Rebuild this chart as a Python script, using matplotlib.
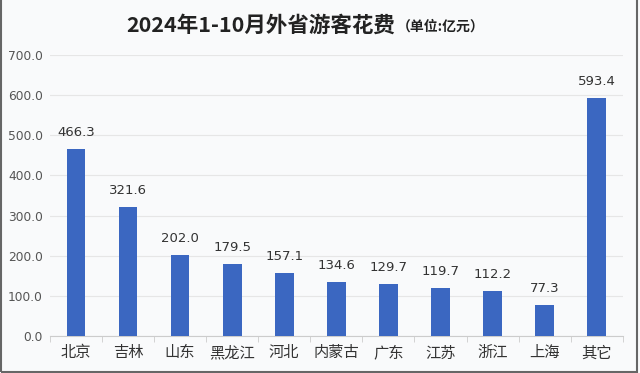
import matplotlib.pyplot as plt
import numpy as np

plt.rcParams['font.family'] = ['Noto Sans CJK SC', 'DejaVu Sans']

provinces = ['北京', '吉林', '山东', '黑龙江', '河北', '内蒙古', '广东', '江苏', '浙江', '上海', '其它']
spending = [466.3, 321.6, 202.0, 179.5, 157.1, 134.6, 129.7, 119.7, 112.2, 77.3, 593.4]
y_ticks = [0, 100, 200, 300, 400, 500, 600, 700]

bar_color = '#3b67c1'
bg = '#f9fafb'

fig = plt.figure(figsize=(6.4, 3.73), dpi=100, facecolor=bg)
ax = fig.add_axes([0.078, 0.099, 0.895, 0.754], facecolor=bg)

x = np.arange(len(provinces))
ax.bar(x, spending, width=0.36, color=bar_color, zorder=3)
for xi, v in zip(x, spending):
    ax.text(xi, v + 24, f"{v:.1f}", ha='center', va='bottom', fontsize=9.5,
            color='#333333', family=['DejaVu Sans'])

ax.set_xlim(-0.5, len(provinces) - 0.5)
ax.set_ylim(0, 700)
ax.set_yticks(y_ticks)
ax.set_yticklabels([f"{t:.1f}" for t in y_ticks], fontsize=8.8, color='#555555',
                   family=['DejaVu Sans'])
ax.tick_params(axis='y', length=0, pad=5)
ax.set_xticks(x)
ax.set_xticklabels(provinces, fontsize=11, color='#333333')
ax.tick_params(axis='x', length=0, pad=6)
ax.set_xticks(np.arange(-0.5, len(provinces)), minor=True)
ax.tick_params(axis='x', which='minor', length=4, color='#cccccc')

ax.grid(axis='y', color='#e6e6e6', linewidth=0.8, zorder=0)
for s in ['left', 'right', 'top']:
    ax.spines[s].set_visible(False)
ax.spines['bottom'].set_color('#cccccc')

fig.text(0.617, 0.933, '2024年1-10月外省游客花费', ha='right', va='center',
         fontsize=15.5, fontweight='bold', color='#222222')
fig.text(0.620, 0.928, '（单位:亿元）', ha='left', va='center',
         fontsize=10, fontweight='bold', color='#222222')

# frame around the image
fig.patches.append(plt.Rectangle((0.002, 0.003), 0.994, 1.2, transform=fig.transFigure,
                                 fill=False, edgecolor='#666666', linewidth=1.5))

fig.savefig('out.png', dpi=100, facecolor=bg)
